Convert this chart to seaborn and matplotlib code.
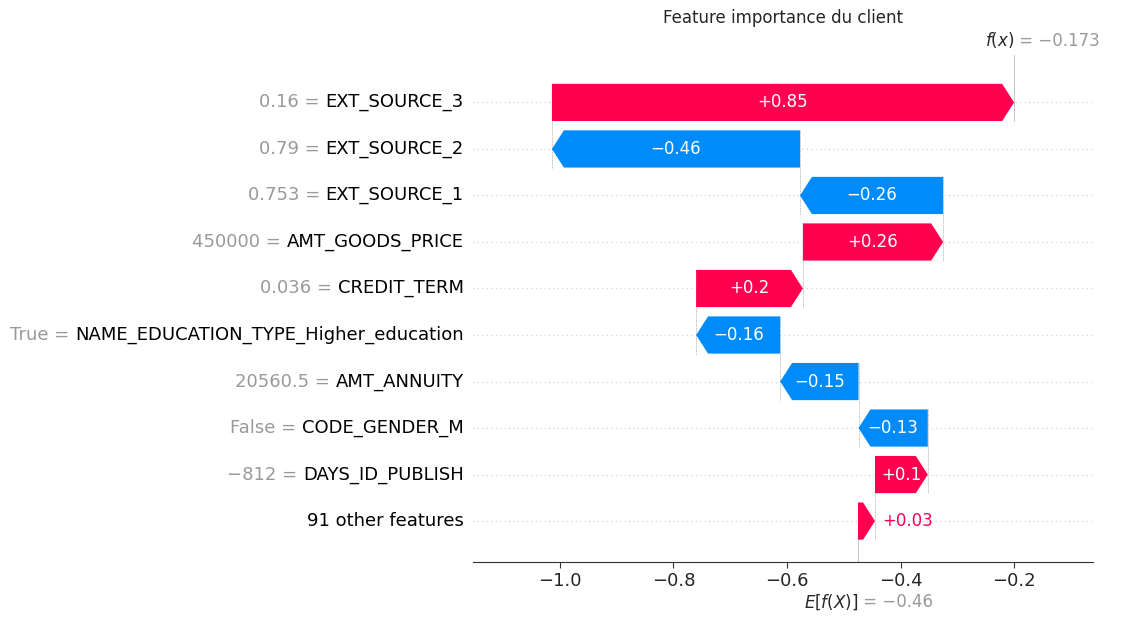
import seaborn as sns
import matplotlib.pyplot as plt
from matplotlib.patches import Polygon

# data, from bottom row to top row
features = ["91 other features", "DAYS_ID_PUBLISH", "CODE_GENDER_M", "AMT_ANNUITY",
            "NAME_EDUCATION_TYPE_Higher_education", "CREDIT_TERM", "AMT_GOODS_PRICE",
            "EXT_SOURCE_1", "EXT_SOURCE_2", "EXT_SOURCE_3"]
feature_values = ["", "\u2212812", "False", "20560.5", "True", "0.036", "450000",
                  "0.753", "0.79", "0.16"]
# bar lengths as drawn on the axis
shap_values = [0.030, 0.093, -0.122, -0.138, -0.148, 0.188, 0.247, -0.252, -0.437, 0.814]
labels = ["+0.03", "+0.1", "\u22120.13", "\u22120.15", "\u22120.16", "+0.2", "+0.26",
          "\u22120.26", "\u22120.46", "+0.85"]
base_value = -0.475
base_label = "\u22120.46"
final_label = "\u22120.173"

RED = "#ff0051"
BLUE = "#008bfb"

sns.set_style("white")
plt.rcParams["font.family"] = ["DejaVu Sans"]

fig = plt.figure(figsize=(11.23, 6.22), dpi=100)
ax = fig.add_axes([473 / 1123, (622 - 562) / 622, 620 / 1123, (562 - 55) / 622])
ax.set_xlim(-1.153, -0.061)
n = len(features)
ymin, ymax = -0.88, 10.02
ax.set_ylim(ymin, ymax)

final_value = base_value + sum(shap_values)
head = 0.021
h = 0.8

# grid lines
for i in range(n):
    ax.axhline(i, color="#cccccc", lw=0.8, ls=(0, (1, 3)), zorder=0)

pos = base_value
for i, v in enumerate(shap_values):
    start, end = pos, pos + v
    color = RED if v > 0 else BLUE
    d = 1 if v > 0 else -1
    hl = min(head, abs(v))
    body_end = end - d * hl
    poly = [(start, i - h / 2), (body_end, i - h / 2), (end, i),
            (body_end, i + h / 2), (start, i + h / 2)]
    ax.add_patch(Polygon(poly, closed=True, color=color, lw=0, zorder=3))
    # connector line to next row
    if i < n - 1:
        ax.plot([end, end], [i - h / 2, i + 1 + h / 2], color="#bbbbbb",
                lw=0.6, ls=(0, (2, 1)), zorder=1)
    mid = (start + end) / 2
    if abs(v) > 0.08:
        ax.text(mid, i, labels[i], ha="center", va="center", color="white",
                fontsize=12, zorder=4)
    else:
        ax.text(max(start, end) + 0.012, i, labels[i], ha="left", va="center",
                color=color, fontsize=12, zorder=4)
    pos = end

# base and final value lines
ax.plot([base_value, base_value], [ymin, -h / 2], color="#bbbbbb", lw=0.6, zorder=1)
ax.plot([final_value, final_value], [n - 1 - h / 2, ymax], color="#bbbbbb",
        lw=0.6, zorder=1)

ax.set_yticks([])
for s in ["left", "right", "top"]:
    ax.spines[s].set_visible(False)
ax.spines["bottom"].set_color("#333333")
ax.set_xticks([-1.0, -0.8, -0.6, -0.4, -0.2])
ax.set_xticklabels(["\u22121.0", "\u22120.8", "\u22120.6", "\u22120.4", "\u22120.2"])
ax.tick_params(axis="x", labelsize=13, length=4, color="#333333", bottom=True)

# feature labels
fig.canvas.draw()
renderer = fig.canvas.get_renderer()
for i in range(n):
    t = ax.text(-0.015, i, features[i], transform=ax.get_yaxis_transform(),
                ha="right", va="center", fontsize=13, color="black")
    if feature_values[i]:
        bb = t.get_window_extent(renderer)
        x0 = ax.transAxes.inverted().transform((bb.x0, 0))[0]
        ax.text(x0, i, feature_values[i] + " = ", transform=ax.get_yaxis_transform(),
                ha="right", va="center", fontsize=13, color="#999999")

# f(x) and E[f(X)] annotations
ax.text(final_value, ymax + 0.1, "$f(x)$", ha="right", va="bottom", fontsize=12,
        clip_on=False)
ax.text(final_value, ymax + 0.1, " = " + final_label, ha="left", va="bottom",
        fontsize=12, color="#999999", clip_on=False)
bx = ax.transData.transform((base_value, 0))[0] / 1123
fig.text(bx, 20 / 622, "$E[f(X)]$", ha="right", va="center", fontsize=12)
fig.text(bx, 20 / 622, " = " + base_label, ha="left", va="center", fontsize=12,
         color="#999999")

fig.text(783 / 1123, 1 - 18 / 622, "Feature importance du client", ha="center",
         va="center", fontsize=12)

fig.savefig("out.png", dpi=100)
